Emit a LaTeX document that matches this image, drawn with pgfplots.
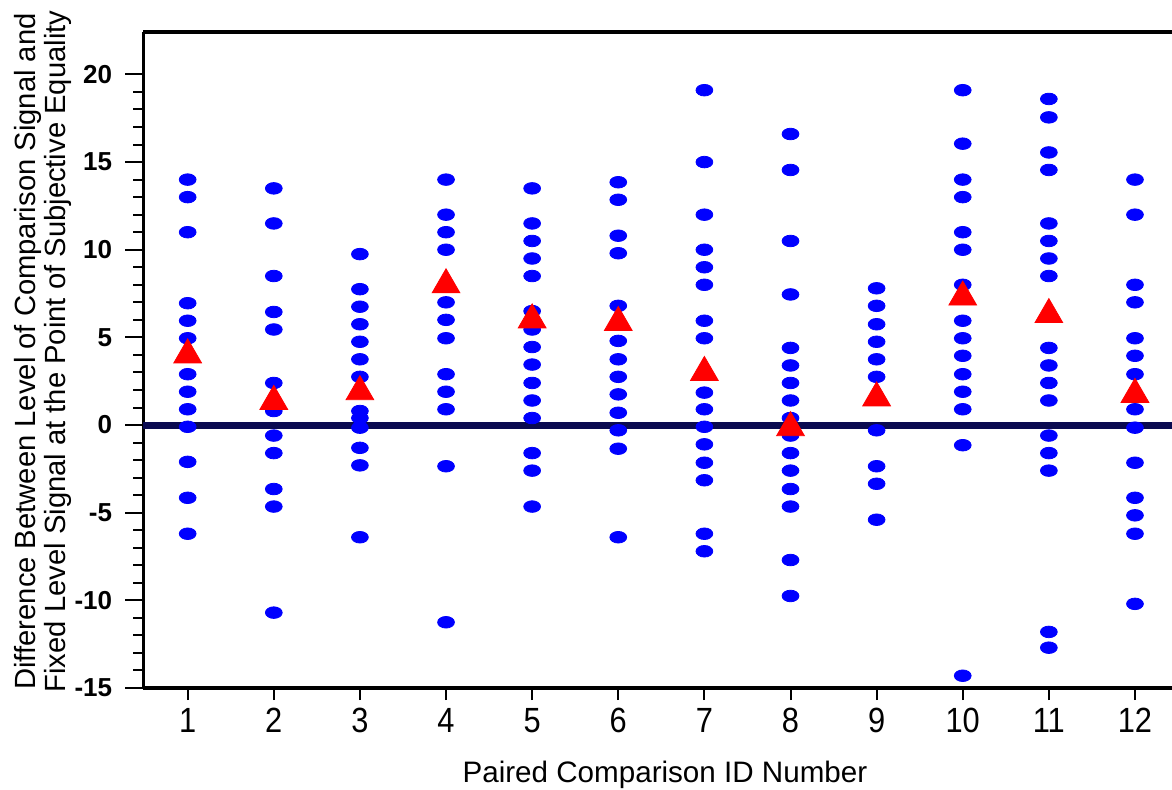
\documentclass[border=0pt]{standalone}
\usepackage{fontspec}
\setmainfont{Liberation Sans}
\newfontfamily\narrowfont[FakeStretch=0.88]{Liberation Sans}
\usepackage{pgfplots}
\pgfplotsset{compat=1.18}
\definecolor{navyline}{RGB}{10,10,80}
\begin{document}
\begin{tikzpicture}
\begin{axis}[
  scale only axis, width=514.25pt, height=328pt,
  xmin=0.487, xmax=12.43, ymin=-15, ymax=22.42,
  axis x line=box, axis y line=left,
  x axis line style={-}, y axis line style={-},
  axis line style={line width=1.6pt, black},
  xtick={1,2,3,4,5,6,7,8,9,10,11,12},
  xticklabels={1,2,3,4,5,6,7,8,9,10,11,12},
  ytick={-15,-10,-5,0,5,10,15,20},
  yticklabels={-15,-10,-5,0,5,10,15,20},
  xtick pos=bottom, ytick pos=left,
  minor y tick num=4,
  tick align=outside,
  major tick length=9pt, minor tick length=5pt,
  tick style={line width=1pt, black},
  xtick style={/pgfplots/major tick length=6pt},
  yticklabel style={font=\fontsize{13}{13}\selectfont\bfseries, anchor=east, inner sep=0pt, xshift=-6.5pt},
  xticklabel style={font=\narrowfont\fontsize{17.5}{17.5}\selectfont, anchor=north, inner sep=0pt, yshift=-1pt},
  xlabel={Paired Comparison ID Number},
  xlabel style={at={(axis description cs:0.507,-0.1433)}, anchor=base, font=\fontsize{14.8}{15}\selectfont},
  ylabel={Difference Between Level of Comparison Signal and\\Fixed Level Signal at the Point of Subjective Equality},
  ylabel style={at={(axis description cs:-0.098,0.513)}, anchor=center, align=center, font=\fontsize{14.6}{15}\selectfont},
  clip=false,
]
\coordinate (sw) at (rel axis cs:0,0);
\coordinate (ne) at (rel axis cs:1,1);
\addplot[navyline, line width=3.5pt] coordinates {(0.487,0) (12.43,0)};
\addplot[only marks, mark=*, blue, mark size=2.9pt, mark options={xscale=1.45, draw=blue, fill=blue}] coordinates {
 (1,14.0) (1,13.0) (1,11.0) (1,6.95) (1,5.95) (1,4.95) (1,2.9) (1,1.9) (1,0.9) (1,-0.1) (1,-2.1) (1,-4.15) (1,-6.2)
 (2,13.5) (2,11.5) (2,8.5) (2,6.45) (2,5.45) (2,2.4) (2,0.8) (2,-0.6) (2,-1.6) (2,-3.65) (2,-4.65) (2,-10.7)
 (3,9.75) (3,7.75) (3,6.75) (3,5.75) (3,4.75) (3,3.75) (3,2.75) (3,0.8) (3,0.4) (3,-0.15) (3,-1.3) (3,-2.3) (3,-6.4)
 (4,14.0) (4,12.0) (4,11.0) (4,10.0) (4,7.0) (4,6.0) (4,4.95) (4,2.9) (4,1.9) (4,0.9) (4,-2.35) (4,-11.25)
 (5,13.5) (5,11.5) (5,10.5) (5,9.5) (5,8.5) (5,6.5) (5,5.45) (5,4.45) (5,3.45) (5,2.4) (5,1.4) (5,0.4) (5,-1.6) (5,-2.6) (5,-4.65)
 (6,13.85) (6,12.85) (6,10.8) (6,9.8) (6,6.8) (6,4.8) (6,3.75) (6,2.75) (6,1.75) (6,0.7) (6,-0.3) (6,-1.35) (6,-6.4)
 (7,19.1) (7,15.0) (7,12.0) (7,10.0) (7,9.0) (7,8.0) (7,5.95) (7,4.95) (7,2.9) (7,1.85) (7,0.9) (7,-0.1) (7,-1.1) (7,-2.15) (7,-3.15) (7,-6.2) (7,-7.2)
 (8,16.6) (8,14.55) (8,10.5) (8,7.45) (8,4.4) (8,3.4) (8,2.4) (8,1.4) (8,0.4) (8,-0.6) (8,-1.6) (8,-2.6) (8,-3.65) (8,-4.65) (8,-7.7) (8,-9.75)
 (9,7.8) (9,6.8) (9,5.75) (9,4.75) (9,3.75) (9,2.75) (9,-0.3) (9,-2.35) (9,-3.35) (9,-5.4)
 (10,19.1) (10,16.05) (10,14.0) (10,13.0) (10,11.0) (10,10.0) (10,8.0) (10,5.95) (10,4.95) (10,3.95) (10,2.9) (10,1.9) (10,0.9) (10,-1.15) (10,-14.3)
 (11,18.6) (11,17.55) (11,15.55) (11,14.55) (11,11.5) (11,10.5) (11,9.5) (11,8.5) (11,4.4) (11,3.4) (11,2.4) (11,1.4) (11,-0.6) (11,-1.6) (11,-2.6) (11,-11.8) (11,-12.7)
 (12,14.0) (12,12.0) (12,8.0) (12,7.0) (12,4.95) (12,3.95) (12,2.9) (12,0.9) (12,-0.15) (12,-2.15) (12,-4.15) (12,-5.15) (12,-6.2) (12,-10.2)
};
\addplot[only marks, mark=triangle*, red, mark size=8pt, mark options={draw=red, fill=red}] coordinates {
 (1,4.0) (2,1.35) (3,1.9) (4,8.0) (5,6.0) (6,5.85) (7,3.0) (8,-0.15) (9,1.55) (10,7.3) (11,6.3) (12,1.75)
};
\end{axis}
\pgfresetboundingbox
\path[use as bounding box] ([shift={(-71.75pt,-50.5pt)}]sw) rectangle ([shift={(0pt,16pt)}]ne);
\end{tikzpicture}
\end{document}
